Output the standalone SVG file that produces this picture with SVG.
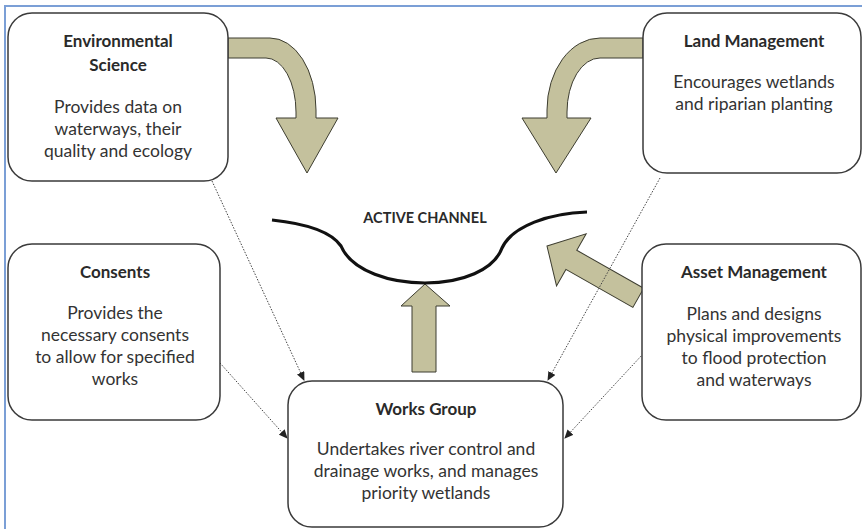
<svg xmlns="http://www.w3.org/2000/svg" width="862" height="529" viewBox="0 0 862 529">
<style>
.box{fill:#ffffff;stroke:#3a3a3a;stroke-width:1.5}
.t{font-family:Lato,"Open Sans","Liberation Sans",sans-serif;font-size:17.5px;fill:#333333;text-anchor:middle}
.b{font-weight:bold;font-size:17px;fill:#2a2a2a}
.ac{font-family:Lato,"Open Sans","Liberation Sans",sans-serif;font-weight:bold;font-size:14.5px;fill:#2a2a2a;text-anchor:middle}
.big{fill:#c4c19d;stroke:#3d3d30;stroke-width:1}
.dot{fill:none;stroke:#444;stroke-width:1;stroke-dasharray:1.5 1.5}
</style>
<defs>
<marker id="ah" markerWidth="9" markerHeight="8" refX="8" refY="4" orient="auto" markerUnits="userSpaceOnUse">
<path d="M0,0 L9,4 L0,8 Z" fill="#222"/>
</marker>
</defs>
<rect width="862" height="529" fill="#ffffff"/>
<path d="M5,529 V6 H862" fill="none" stroke="#7b9fd6" stroke-width="2"/>

<g id="block-arrows">
<path class="big" d="M228,38 H270 A46,72 0 0 1 316,110 V118 H338 L307,173 L276,118 H296 V112 A30,54 0 0 0 266,58 H228 Z"/>
<path class="big" d="M643,38 H600 A53,72 0 0 0 547,110 V118 H522 L556,173 L591,118 H567 V112 A33,54 0 0 1 600,58 H643 Z"/>
<path class="big" d="M425,284 L450,306 L436,306 L436,372 L412,372 L412,306 L401,306 Z"/>
<path class="big" transform="translate(547,246) rotate(29.6)" d="M0,0 L28,-30 L28,-11 L105,-11 L105,11 L28,11 L28,30 Z"/>
</g>

<g id="active-channel">
<path d="M272,220 C310,224 332,233 341,246 C352,272 392,283 425,283 C462,283 494,270 502,248 C512,226 550,213 587,212" fill="none" stroke="#111" stroke-width="3.2"/>
<text class="ac" x="425" y="223">ACTIVE CHANNEL</text>
</g>

<g id="connectors">
<line class="dot" x1="212" y1="181" x2="304" y2="380" marker-end="url(#ah)"/>
<line class="dot" x1="220" y1="363" x2="287" y2="438" marker-end="url(#ah)"/>
<line class="dot" x1="660" y1="178" x2="548" y2="380" marker-end="url(#ah)"/>
<line class="dot" x1="643" y1="354" x2="565" y2="438" marker-end="url(#ah)"/>
</g>

<g id="environmental-science">
<rect class="box" x="8" y="13" width="220" height="168" rx="24"/>
<text class="t b" x="118" y="47">Environmental</text>
<text class="t b" x="118" y="71">Science</text>
<text class="t" x="118" y="113">Provides data on</text>
<text class="t" x="118" y="135">waterways, their</text>
<text class="t" x="118" y="157">quality and ecology</text>
</g>

<g id="land-management">
<rect class="box" x="643" y="13" width="218" height="160" rx="24"/>
<text class="t b" x="754" y="47">Land Management</text>
<text class="t" x="754" y="88">Encourages wetlands</text>
<text class="t" x="754" y="110">and riparian planting</text>
</g>

<g id="consents">
<rect class="box" x="8" y="244" width="212" height="176" rx="24"/>
<text class="t b" x="115" y="278">Consents</text>
<text class="t" x="115" y="319">Provides the</text>
<text class="t" x="115" y="341">necessary consents</text>
<text class="t" x="115" y="363">to allow for specified</text>
<text class="t" x="115" y="385">works</text>
</g>

<g id="asset-management">
<rect class="box" x="642" y="244" width="219" height="176" rx="24"/>
<text class="t b" x="754" y="278">Asset Management</text>
<text class="t" x="754" y="320">Plans and designs</text>
<text class="t" x="754" y="342">physical improvements</text>
<text class="t" x="754" y="364">to flood protection</text>
<text class="t" x="754" y="386">and waterways</text>
</g>

<g id="works-group">
<rect class="box" x="288" y="381" width="275" height="146" rx="24"/>
<text class="t b" x="426" y="415">Works Group</text>
<text class="t" x="426" y="455">Undertakes river control and</text>
<text class="t" x="426" y="477">drainage works, and manages</text>
<text class="t" x="426" y="499">priority wetlands</text>
</g>
</svg>
